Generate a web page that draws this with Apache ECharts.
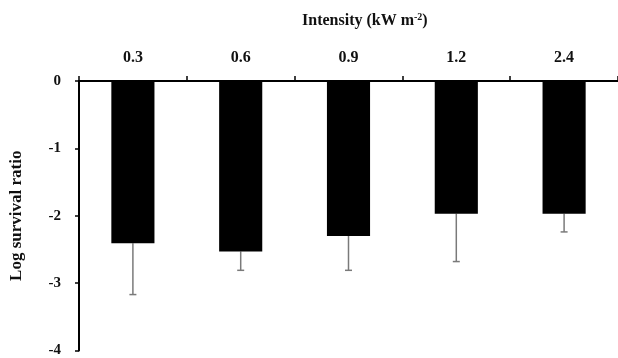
<!DOCTYPE html>
<html>
<head>
<meta charset="utf-8">
<script src="https://cdn.jsdelivr.net/npm/echarts@6/dist/echarts.min.js"></script>
<style>
  html, body { margin: 0; padding: 0; background: #fff; }
  #chart { width: 618px; height: 358px; }
</style>
</head>
<body>
<div id="chart"></div>
<script>
// Light intensities (kW m-2) shown along the top axis
const intensities = ['0.3', '0.6', '0.9', '1.2', '2.4'];
// Mean log survival ratio for each intensity
const logSurvival = [-2.41, -2.53, -2.30, -1.97, -1.97];
// Size of the downward error bar for each intensity
const errDown = [0.76, 0.28, 0.51, 0.71, 0.27];
// Tick values on the vertical axis
const yTicks = [0, -1, -2, -3, -4];

const FONT = 'Liberation Serif';

const chart = echarts.init(document.getElementById('chart'), null, { renderer: 'canvas' });

const errorData = intensities.map((c, i) => [i, logSurvival[i], errDown[i]]);

chart.setOption({
  animation: false,
  backgroundColor: '#ffffff',
  title: {
    text: 'Intensity (kW m{sup|-2})',
    left: 297,
    top: 7,
    textStyle: {
      fontFamily: FONT,
      fontWeight: 'bold',
      fontSize: 16,
      color: '#111',
      rich: {
        sup: {
          fontFamily: FONT,
          fontWeight: 'bold',
          fontSize: 10,
          color: '#111',
          verticalAlign: 'top',
          padding: [0, 0, 7, 0]
        }
      }
    }
  },
  grid: {
    left: 78,
    top: 81,
    width: 548,
    height: 270,
    containLabel: false
  },
  xAxis: {
    type: 'category',
    position: 'top',
    data: intensities,
    boundaryGap: true,
    axisLine: { onZero: false, lineStyle: { color: '#000', width: 2 } },
    axisTick: { show: true, length: 5, lineStyle: { color: '#000', width: 1.5 } },
    axisLabel: {
      margin: 15,
      fontFamily: FONT,
      fontWeight: 'bold',
      fontSize: 16,
      color: '#111'
    },
    splitLine: { show: false }
  },
  yAxis: {
    type: 'value',
    min: Math.min(...yTicks),
    max: Math.max(...yTicks),
    interval: 1,
    name: 'Log survival ratio',
    nameLocation: 'middle',
    nameRotate: 90,
    nameGap: 54,
    nameTextStyle: {
      fontFamily: FONT,
      fontWeight: 'bold',
      fontSize: 17,
      color: '#111'
    },
    axisLine: { show: true, lineStyle: { color: '#000', width: 2 } },
    axisTick: { show: true, length: 4, lineStyle: { color: '#000', width: 1.5 } },
    axisLabel: {
      margin: 18,
      fontFamily: FONT,
      fontWeight: 'bold',
      fontSize: 15,
      color: '#111'
    },
    splitLine: { show: false }
  },
  series: [
    {
      type: 'bar',
      data: logSurvival,
      barWidth: '40%',
      itemStyle: { color: '#000' },
      z: 2
    },
    {
      type: 'custom',
      data: errorData,
      z: 1,
      renderItem: function (params, api) {
        const idx = api.value(0);
        const val = api.value(1);
        const err = api.value(2);
        const top = api.coord([idx, val]);
        const bot = api.coord([idx, val - err]);
        const half = 3.5;
        const style = { stroke: '#7a7a7a', lineWidth: 1.5 };
        return {
          type: 'group',
          children: [
            { type: 'line', shape: { x1: top[0], y1: top[1], x2: bot[0], y2: bot[1] }, style: style },
            { type: 'line', shape: { x1: bot[0] - half, y1: bot[1], x2: bot[0] + half, y2: bot[1] }, style: style }
          ]
        };
      }
    }
  ]
});
</script>
</body>
</html>
